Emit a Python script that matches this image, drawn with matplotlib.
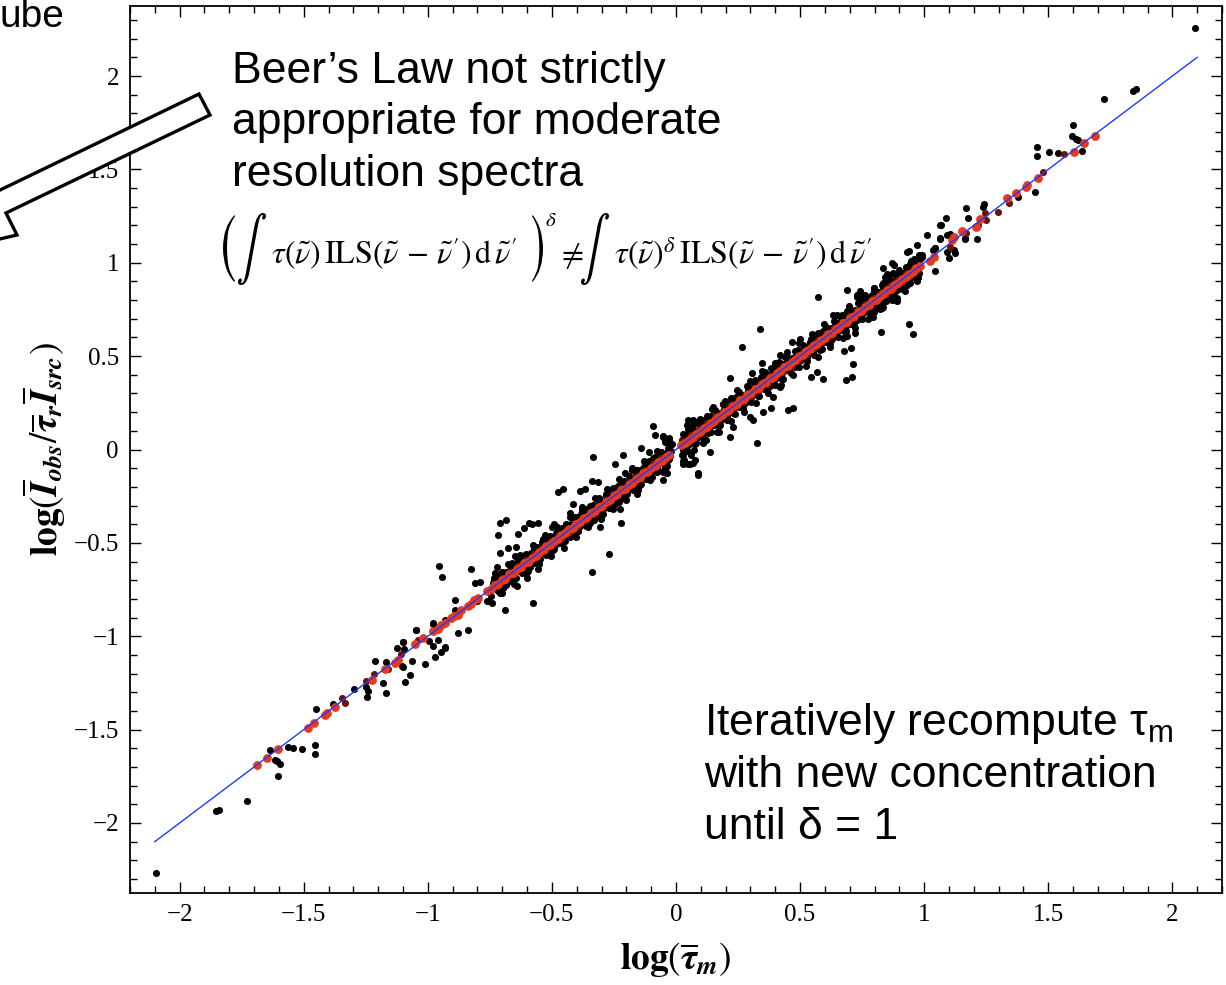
import matplotlib.pyplot as plt
from matplotlib.patches import Polygon, PathPatch
from matplotlib.textpath import TextPath
from matplotlib.font_manager import FontProperties
from matplotlib.transforms import Affine2D
from matplotlib.ticker import MultipleLocator, FuncFormatter

# =========================
# data
# =========================
fit_x = [-2.1, 2.1]
fit_y = [-2.1, 2.1]

# dense black band along the 1:1 line
core_x = [-0.734, -0.709, -0.684, -0.659, -0.634, -0.609, -0.584, -0.559, -0.534, -0.509,
          -0.484, -0.459, -0.434, -0.409, -0.384, -0.359, -0.334, -0.309, -0.284, -0.259,
          -0.234, -0.209, -0.184, -0.159, -0.134, -0.109, -0.084, -0.059, -0.034,
          -0.746, -0.721, -0.696, -0.671, -0.646, -0.621, -0.596, -0.571, -0.546, -0.521,
          -0.496, -0.471, -0.446, -0.421, -0.396, -0.371, -0.346, -0.321, -0.296, -0.271,
          -0.246, -0.221, -0.196, -0.171, -0.146, -0.121, -0.096, -0.071, -0.046,
          -0.728, -0.703, -0.678, -0.653, -0.628, -0.603, -0.578, -0.553, -0.528, -0.503,
          -0.478, -0.453, -0.428, -0.403, -0.378, -0.353, -0.328, -0.303, -0.278, -0.253,
          -0.228, -0.203, -0.178, -0.153, -0.128, -0.103, -0.078, -0.053, -0.028,
          0.041, 0.066, 0.091, 0.116, 0.141, 0.166, 0.191, 0.216, 0.241, 0.266,
          0.291, 0.316, 0.341, 0.366, 0.391, 0.416, 0.441, 0.466, 0.491, 0.516,
          0.541, 0.566, 0.591, 0.616, 0.641, 0.666, 0.691, 0.716, 0.741, 0.766,
          0.791, 0.816, 0.841, 0.866, 0.891, 0.916, 0.941, 0.966, 0.991,
          0.029, 0.054, 0.079, 0.104, 0.129, 0.154, 0.179, 0.204, 0.229, 0.254,
          0.279, 0.304, 0.329, 0.354, 0.379, 0.404, 0.429, 0.454, 0.479, 0.504,
          0.529, 0.554, 0.579, 0.604, 0.629, 0.654, 0.679, 0.704, 0.729, 0.754,
          0.779, 0.804, 0.829, 0.854, 0.879, 0.904, 0.929, 0.954, 0.979,
          0.047, 0.072, 0.097, 0.122, 0.147, 0.172, 0.197, 0.222, 0.247, 0.272,
          0.297, 0.322, 0.347, 0.372, 0.397, 0.422, 0.447, 0.472, 0.497, 0.522,
          0.547, 0.572, 0.597, 0.622, 0.647, 0.672, 0.697, 0.722, 0.747, 0.772,
          0.797, 0.822, 0.847, 0.872, 0.897, 0.922, 0.947, 0.972,
          -0.030, -0.024, -0.020, -0.032, -0.036, -0.041, -0.046, -0.052, -0.018, -0.026,
          0.026, 0.030, 0.034, 0.040, 0.045, 0.028, 0.052]
core_y = [-0.704, -0.667, -0.658, -0.609, -0.600, -0.563, -0.556, -0.521, -0.479, -0.478,
          -0.446, -0.419, -0.402, -0.361, -0.348, -0.321, -0.298, -0.259, -0.250, -0.216,
          -0.196, -0.170, -0.150, -0.109, -0.098, -0.062, -0.040, -0.015, 0.010,
          -0.782, -0.749, -0.744, -0.703, -0.690, -0.648, -0.648, -0.606, -0.586, -0.551,
          -0.540, -0.499, -0.492, -0.456, -0.436, -0.401, -0.392, -0.354, -0.344, -0.298,
          -0.291, -0.258, -0.240, -0.203, -0.192, -0.156, -0.148, -0.110, -0.098,
          -0.662, -0.770, -0.615, -0.720, -0.566, -0.668, -0.512, -0.615, -0.462, -0.570,
          -0.415, -0.525, -0.360, -0.470, -0.310, -0.415, -0.262, -0.370, -0.212, -0.318,
          -0.160, -0.268, -0.112, -0.218, -0.062, -0.165, -0.010, -0.120, 0.035,
          0.075, 0.092, 0.137, 0.138, 0.180, 0.196, 0.243, 0.240, 0.283, 0.294,
          0.325, 0.342, 0.387, 0.388, 0.430, 0.446, 0.493, 0.490, 0.533, 0.544,
          0.575, 0.592, 0.637, 0.638, 0.680, 0.696, 0.743, 0.740, 0.783, 0.794,
          0.825, 0.842, 0.887, 0.888, 0.930, 0.946, 0.993, 0.990, 1.033,
          -0.003, 0.030, 0.035, 0.076, 0.091, 0.132, 0.130, 0.174, 0.193, 0.229,
          0.247, 0.280, 0.285, 0.326, 0.341, 0.382, 0.380, 0.424, 0.443, 0.479,
          0.497, 0.530, 0.535, 0.576, 0.591, 0.632, 0.630, 0.674, 0.693, 0.729,
          0.747, 0.780, 0.785, 0.826, 0.841, 0.882, 0.880, 0.924, 0.943,
          0.110, -0.005, 0.165, 0.050, 0.215, 0.095, 0.262, 0.150, 0.318, 0.200,
          0.365, 0.248, 0.420, 0.300, 0.465, 0.345, 0.520, 0.398, 0.570, 0.445,
          0.620, 0.495, 0.670, 0.548, 0.718, 0.598, 0.770, 0.650, 0.815, 0.700,
          0.865, 0.750, 0.915, 0.800, 0.960, 0.850, 1.010, 0.905,
          0.050, 0.022, -0.008, -0.058, -0.088, -0.125, 0.040, 0.066, 0.030, -0.035,
          -0.030, 0.012, -0.055, 0.045, -0.010, -0.060, 0.030]

# black points hugging the red centre line
inner_x = [-0.736, -0.724, -0.712, -0.700, -0.688, -0.676, -0.664, -0.652, -0.640, -0.628,
           -0.616, -0.604, -0.592, -0.580, -0.568, -0.556, -0.544, -0.532, -0.520, -0.508,
           -0.496, -0.484, -0.472, -0.460, -0.448, -0.436, -0.424, -0.412, -0.400, -0.388,
           -0.376, -0.364, -0.352, -0.340, -0.328, -0.316, -0.304, -0.292, -0.280, -0.268,
           -0.256, -0.244, -0.232, -0.220, -0.208, -0.196, -0.184, -0.172, -0.160, -0.148,
           -0.136, -0.124, -0.112, -0.100, -0.088, -0.076, -0.064, -0.052, -0.040, -0.028,
           0.026, 0.038, 0.050, 0.062, 0.074, 0.086, 0.098, 0.110, 0.122, 0.134,
           0.146, 0.158, 0.170, 0.182, 0.194, 0.206, 0.218, 0.230, 0.242, 0.254,
           0.266, 0.278, 0.290, 0.302, 0.314, 0.326, 0.338, 0.350, 0.362, 0.374,
           0.386, 0.398, 0.410, 0.422, 0.434, 0.446, 0.458, 0.470, 0.482, 0.494,
           0.506, 0.518, 0.530, 0.542, 0.554, 0.566, 0.578, 0.590, 0.602, 0.614,
           0.626, 0.638, 0.650, 0.662, 0.674, 0.686, 0.698, 0.710, 0.722, 0.734,
           0.746, 0.758, 0.770, 0.782, 0.794, 0.806, 0.818, 0.830, 0.842, 0.854,
           0.866, 0.878, 0.890, 0.902, 0.914, 0.926, 0.938, 0.950, 0.962, 0.974]
inner_y = [-0.714, -0.745, -0.688, -0.722, -0.664, -0.699, -0.641, -0.674, -0.617, -0.650,
           -0.592, -0.627, -0.569, -0.602, -0.544, -0.579, -0.521, -0.554, -0.496, -0.531,
           -0.473, -0.506, -0.448, -0.483, -0.425, -0.458, -0.400, -0.435, -0.377, -0.410,
           -0.352, -0.387, -0.329, -0.362, -0.304, -0.339, -0.281, -0.314, -0.256, -0.291,
           -0.233, -0.266, -0.208, -0.243, -0.185, -0.218, -0.160, -0.195, -0.137, -0.170,
           -0.112, -0.147, -0.089, -0.122, -0.064, -0.099, -0.041, -0.074, -0.017, -0.050,
           0.049, 0.016, 0.073, 0.040, 0.097, 0.064, 0.121, 0.088, 0.145, 0.112,
           0.169, 0.136, 0.193, 0.160, 0.217, 0.184, 0.241, 0.208, 0.265, 0.232,
           0.289, 0.256, 0.313, 0.280, 0.337, 0.304, 0.361, 0.328, 0.385, 0.352,
           0.409, 0.376, 0.433, 0.400, 0.457, 0.424, 0.481, 0.448, 0.505, 0.472,
           0.529, 0.496, 0.553, 0.520, 0.577, 0.544, 0.601, 0.568, 0.625, 0.592,
           0.649, 0.616, 0.673, 0.640, 0.697, 0.664, 0.721, 0.688, 0.745, 0.712,
           0.769, 0.736, 0.793, 0.760, 0.817, 0.784, 0.841, 0.808, 0.865, 0.832,
           0.889, 0.856, 0.913, 0.880, 0.937, 0.904, 0.961, 0.928, 0.985, 0.952]

# x positions of two more rows in the band (dark-red fringe and outer black edge)
band_x = [-0.732, -0.716, -0.700, -0.684, -0.668, -0.652, -0.636, -0.620, -0.604, -0.588,
          -0.572, -0.556, -0.540, -0.524, -0.508, -0.492, -0.476, -0.460, -0.444, -0.428,
          -0.412, -0.396, -0.380, -0.364, -0.348, -0.332, -0.316, -0.300, -0.284, -0.268,
          -0.252, -0.236, -0.220, -0.204, -0.188, -0.172, -0.156, -0.140, -0.124, -0.108,
          -0.092, -0.076, -0.060, -0.044,
          0.030, 0.046, 0.062, 0.078, 0.094, 0.110, 0.126, 0.142, 0.158, 0.174,
          0.190, 0.206, 0.222, 0.238, 0.254, 0.270, 0.286, 0.302, 0.318, 0.334,
          0.350, 0.366, 0.382, 0.398, 0.414, 0.430, 0.446, 0.462, 0.478, 0.494,
          0.510, 0.526, 0.542, 0.558, 0.574, 0.590, 0.606, 0.622, 0.638, 0.654,
          0.670, 0.686, 0.702, 0.718, 0.734, 0.750, 0.766, 0.782, 0.798, 0.814,
          0.830, 0.846, 0.862, 0.878, 0.894, 0.910, 0.926, 0.942, 0.958, 0.974]
fringe_y = [-0.718, -0.729, -0.686, -0.697, -0.654, -0.665, -0.622, -0.633, -0.590, -0.601,
            -0.558, -0.569, -0.526, -0.537, -0.494, -0.505, -0.462, -0.473, -0.430, -0.441,
            -0.398, -0.409, -0.366, -0.377, -0.334, -0.345, -0.302, -0.313, -0.270, -0.281,
            -0.238, -0.249, -0.206, -0.217, -0.174, -0.185, -0.142, -0.153, -0.110, -0.121,
            -0.078, -0.089, -0.046, -0.057,
            0.044, 0.033, 0.076, 0.065, 0.108, 0.097, 0.140, 0.129, 0.172, 0.161,
            0.204, 0.193, 0.236, 0.225, 0.268, 0.257, 0.300, 0.289, 0.332, 0.321,
            0.364, 0.353, 0.396, 0.385, 0.428, 0.417, 0.460, 0.449, 0.492, 0.481,
            0.524, 0.513, 0.556, 0.545, 0.588, 0.577, 0.620, 0.609, 0.652, 0.641,
            0.684, 0.673, 0.716, 0.705, 0.748, 0.737, 0.780, 0.769, 0.812, 0.801,
            0.844, 0.833, 0.876, 0.865, 0.908, 0.897, 0.940, 0.929, 0.972, 0.961]
edge_y = [-0.687, -0.759, -0.655, -0.727, -0.623, -0.695, -0.591, -0.663, -0.559, -0.631,
          -0.527, -0.599, -0.495, -0.567, -0.463, -0.535, -0.431, -0.503, -0.399, -0.471,
          -0.367, -0.439, -0.335, -0.407, -0.303, -0.375, -0.271, -0.343, -0.239, -0.311,
          -0.207, -0.279, -0.175, -0.247, -0.143, -0.215, -0.111, -0.183, -0.079, -0.151,
          -0.047, -0.119, -0.015, -0.087,
          0.082, -0.004, 0.114, 0.028, 0.146, 0.060, 0.178, 0.092, 0.210, 0.124,
          0.242, 0.156, 0.274, 0.188, 0.306, 0.220, 0.338, 0.252, 0.370, 0.284,
          0.402, 0.316, 0.434, 0.348, 0.466, 0.380, 0.498, 0.412, 0.530, 0.444,
          0.562, 0.476, 0.594, 0.508, 0.626, 0.540, 0.658, 0.572, 0.690, 0.604,
          0.722, 0.636, 0.754, 0.668, 0.786, 0.700, 0.818, 0.732, 0.850, 0.764,
          0.882, 0.796, 0.914, 0.828, 0.946, 0.860, 0.978, 0.892, 1.010, 0.924]

# scattered black points away from the band
spread_x = [0.574, 0.688, 0.339, 0.267, 0.825, 0.685, 0.708, 0.715, 0.722, 0.675,
            0.567, 0.592, 0.543, 0.453, 0.473, 0.325, 0.218, 0.348, 0.305, 0.419,
            0.392, 0.382, 0.352, 0.312, 0.164, 0.137, 0.090, 0.050, -0.092, -0.051,
            -0.028, -0.142, -0.212, -0.246, -0.206, 0.027, 0.056, 0.077, 0.110, 0.218,
            0.231, 0.298, 0.540, 0.634, 0.782, 0.796, 0.883, 0.836, 0.728, 0.755,
            0.466, 0.500, 0.490, 0.419, 0.359, 0.151, 0.104, 0.070,
            -0.333, -0.108, -0.085, -0.176, -0.313, -0.340, -0.454, -0.474, -0.387, -0.367,
            -0.414, -0.380, -0.427, -0.269, -0.340, -0.578, -0.690, -0.710, -0.685, -0.716,
            -0.636, -0.676, -0.710, -0.613, -0.593, -0.580, -0.555, -0.528, -0.501, -0.490,
            -0.954, -0.941, -0.828, -0.891, -0.890, -0.810, -0.790, -0.723, -0.743, -0.760,
            -0.837, -0.878, -0.979, -1.046, -0.932, -1.100, -0.960, -0.555, -0.556, -0.602,
            -0.640, -0.710, -0.800, -0.649, -0.645, -0.400, -0.306, -0.222, -0.159, -0.226,
            -0.230, -0.170, -0.051, -0.038, 0.050, 0.070, 0.087, 0.060, 0.030, 0.043, 0.070,
            0.937, 0.953, 0.704, 1.065, 1.125, 1.065, 0.937, 0.980, 0.950, 0.870,
            0.876, 0.850, 0.836, 0.890, 0.890, 0.796, 0.740, 0.730, 0.760, 0.796,
            0.830, 0.793, 0.977, 1.044, 1.092, 1.165, 1.105, 1.212, 0.690, 0.700]
spread_y = [0.815, 0.854, 0.645, 0.547, 0.630, 0.372, 0.386, 0.456, 0.622, 0.527,
            0.416, 0.377, 0.386, 0.211, 0.223, 0.033, 0.381, 0.464, 0.408, 0.333,
            0.282, 0.220, 0.202, 0.157, 0.095, -0.012, -0.128, 0.157, 0.127, 0.073,
            0.063, 0.006, -0.030, -0.075, -0.128, -0.075, -0.080, -0.057, 0.033, 0.068,
            0.122, 0.175, 0.559, 0.720, 0.711, 0.738, 0.800, 0.764, 0.818, 0.793,
            0.577, 0.590, 0.520, 0.506, 0.416, 0.229, 0.157, 0.130,
            -0.039, -0.016, 0.077, -0.098, -0.173, -0.169, -0.214, -0.228, -0.223, -0.210,
            -0.292, -0.316, -0.342, -0.557, -0.655, -0.821, -0.860, -0.393, -0.378, -0.458,
            -0.453, -0.530, -0.553, -0.423, -0.396, -0.400, -0.395, -0.458, -0.414, -0.400,
            -0.625, -0.682, -0.641, -0.807, -0.857, -0.717, -0.710, -0.628, -0.824, -0.810,
            -0.964, -0.985, -0.928, -0.967, -1.060, -1.030, -1.020, -0.614, -0.640, -0.690,
            -0.730, -0.768, -0.810, -0.571, -0.520, -0.360, -0.417, -0.393, -0.239, -0.316,
            -0.280, -0.180, -0.164, -0.128, -0.075, -0.070, -0.137, -0.030, -0.030, 0.131, 0.160,
            0.672, 0.616, 0.545, 1.131, 1.054, 1.202, 1.064, 1.041, 1.005, 0.997,
            0.943, 0.940, 0.890, 0.854, 0.797, 0.863, 0.850, 0.830, 0.825, 0.773,
            0.760, 0.708, 0.925, 1.077, 1.056, 1.131, 1.154, 1.193, 0.610, 0.690]

# sparse black points at the low end
low_x = [-2.097, -1.852, -1.841, -1.729, -1.637, -1.617, -1.608, -1.597, -1.602, -1.563,
         -1.542, -1.505, -1.456, -1.454, -1.449, -1.384, -1.297, -1.250, -1.243, -1.246,
         -1.212, -1.180, -1.168, -1.169, -1.126, -1.099, -1.096, -1.106, -1.098, -1.090,
         -1.072, -1.064, -1.048, -1.012, -0.995, -0.979, -0.981, -0.972, -0.945, -0.930,
         -0.931]
low_y = [-2.267, -1.935, -1.928, -1.883, -1.610, -1.664, -1.670, -1.685, -1.748, -1.592,
         -1.596, -1.603, -1.580, -1.628, -1.390, -1.364, -1.280, -1.274, -1.292, -1.325,
         -1.135, -1.249, -1.303, -1.137, -1.062, -1.033, -1.067, -1.157, -1.164, -1.246,
         -1.210, -1.130, -0.964, -1.151, -1.025, -0.935, -1.051, -1.110, -1.084, -1.062,
         -0.914]

# sparse black points at the high end
high_x = [2.093, 1.840, 1.855, 1.726, 1.599, 1.595, 1.610, 1.620, 1.634, 1.539,
          1.503, 1.453, 1.453, 1.448, 1.380, 1.243, 1.237, 1.177, 1.167, 1.211,
          1.165, 1.087, 1.069, 1.090, 1.062, 1.098, 1.120, 1.044, 1.035, 1.011,
          1.044, 0.970, 0.930, 0.990, 0.984, 0.957, 0.977, 0.879, 0.836, 0.863,
          0.843, 0.890, 0.930, 0.836, 0.890]
high_y = [2.259, 1.921, 1.929, 1.875, 1.739, 1.679, 1.665, 1.660, 1.600, 1.586,
          1.595, 1.620, 1.572, 1.380, 1.354, 1.314, 1.296, 1.241, 1.295, 1.125,
          1.127, 1.238, 1.200, 1.150, 1.125, 1.024, 1.070, 1.077, 1.068, 1.147,
          0.957, 1.095, 1.056, 1.041, 1.018, 1.018, 0.925, 0.988, 0.970, 0.934,
          0.925, 0.925, 0.904, 0.872, 0.809]

# dark red points
dark_x = [-1.344, -1.333, -1.251, -1.217, -1.160, -1.109, -1.039,
          1.105, 1.169, 1.215, 1.250, 1.247, 1.296, 1.340, 1.477, 1.562]
dark_y = [-1.330, -1.355, -1.239, -1.203, -1.178, -1.096, -1.021,
          1.082, 1.157, 1.202, 1.228, 1.265, 1.270, 1.321, 1.488, 1.582]

# red points (on the line)
red_x = [-0.731, -0.716, -0.702, -0.688, -0.671, -0.657, -0.642, -0.626, -0.611, -0.597,
         -0.582, -0.566, -0.551, -0.537, -0.522, -0.506, -0.491, -0.477, -0.462, -0.446,
         -0.431, -0.417, -0.402, -0.386, -0.371, -0.357, -0.342, -0.326, -0.311, -0.297,
         -0.282, -0.266, -0.251, -0.237, -0.222, -0.206, -0.191, -0.177, -0.162, -0.146,
         -0.131, -0.117, -0.102, -0.086, -0.071, -0.057, -0.042, -0.027,
         0.022, 0.037, 0.051, 0.066, 0.081, 0.096, 0.111, 0.125, 0.140, 0.155,
         0.170, 0.185, 0.199, 0.214, 0.229, 0.244, 0.259, 0.273, 0.288, 0.303,
         0.318, 0.333, 0.347, 0.362, 0.377, 0.392, 0.407, 0.421, 0.436, 0.451,
         0.466, 0.481, 0.495, 0.510, 0.525, 0.540, 0.555, 0.569, 0.584, 0.599,
         0.614, 0.629, 0.643, 0.658, 0.673, 0.688, 0.703, 0.717, 0.732, 0.747,
         0.762, 0.777, 0.791, 0.806, 0.821, 0.836, 0.851, 0.865, 0.880, 0.895,
         0.910, 0.925, 0.939, 0.954, 0.969, 0.984,
         -1.690, -1.649, -1.604, -1.482, -1.458, -1.415, -1.408, -1.374, -1.225, -1.173,
         -1.133, -1.120, -1.050, -1.019, -0.979, -0.960, -0.945, -0.930,
         -0.905, -0.893, -0.880, -0.866, -0.840, -0.826, -0.812, -0.798, -0.760, -0.745,
         1.022, 1.040, 1.112, 1.121, 1.152, 1.210, 1.223, 1.333, 1.371, 1.410,
         1.415, 1.457, 1.602, 1.645, 1.687]
red_y = [-0.728, -0.719, -0.698, -0.691, -0.667, -0.661, -0.639, -0.629, -0.607, -0.600,
         -0.579, -0.569, -0.548, -0.540, -0.519, -0.509, -0.488, -0.480, -0.459, -0.449,
         -0.428, -0.420, -0.399, -0.389, -0.368, -0.360, -0.339, -0.329, -0.308, -0.300,
         -0.279, -0.269, -0.248, -0.240, -0.219, -0.209, -0.188, -0.180, -0.159, -0.149,
         -0.128, -0.120, -0.099, -0.089, -0.068, -0.060, -0.039, -0.030,
         0.025, 0.033, 0.053, 0.064, 0.085, 0.093, 0.113, 0.123, 0.144, 0.152,
         0.172, 0.183, 0.203, 0.211, 0.231, 0.242, 0.263, 0.270, 0.290, 0.301,
         0.322, 0.330, 0.349, 0.360, 0.381, 0.389, 0.409, 0.419, 0.440, 0.448,
         0.468, 0.479, 0.499, 0.507, 0.527, 0.538, 0.559, 0.566, 0.586, 0.597,
         0.618, 0.626, 0.645, 0.656, 0.677, 0.685, 0.705, 0.715, 0.736, 0.744,
         0.764, 0.775, 0.795, 0.803, 0.823, 0.834, 0.855, 0.862, 0.882, 0.893,
         0.914, 0.922, 0.941, 0.952, 0.973, 0.981,
         -1.687, -1.653, -1.603, -1.490, -1.464, -1.420, -1.412, -1.378, -1.236, -1.173,
         -1.142, -1.128, -1.039, -1.007, -0.973, -0.962, -0.941, -0.930,
         -0.900, -0.891, -0.884, -0.862, -0.838, -0.830, -0.808, -0.797, -0.757, -0.748,
         1.011, 1.032, 1.122, 1.139, 1.170, 1.193, 1.234, 1.345, 1.372, 1.407,
         1.414, 1.452, 1.595, 1.643, 1.679]

x_ticks = [-2, -1.5, -1, -0.5, 0, 0.5, 1, 1.5, 2]

# =========================
# figure setup
# =========================
W, H = 1226, 985
plt.rcParams["mathtext.fontset"] = "stix"
plt.rcParams["font.family"] = ["Liberation Serif", "DejaVu Serif"]

fig = plt.figure(figsize=(W / 100, H / 100), dpi=100)
ax = fig.add_axes([130 / W, 92 / H, 1092 / W, 887 / H])


def fx(px):
    return px / W


def fy(py):
    return 1 - py / H


def tall_glyph(ch, left, right, top, bottom):
    # a stretched STIX glyph filling a box given in pixels from the top-left
    path = TextPath((0, 0), ch, size=100, prop=FontProperties(family="STIXGeneral"))
    bb = path.get_extents()
    tr = (Affine2D().translate(-bb.x0, -bb.y0)
          .scale((right - left) / bb.width, (bottom - top) / bb.height)
          .translate(left, H - bottom))
    fig.add_artist(PathPatch(path, transform=tr, facecolor="black", edgecolor="none", zorder=11))


# =========================
# scatter + fit line
# =========================
dot = 26
for xs, ys in [(core_x, core_y), (inner_x, inner_y), (band_x, edge_y),
               (spread_x, spread_y), (low_x, low_y), (high_x, high_y)]:
    ax.scatter(xs, ys, s=dot, color="black", linewidths=0, zorder=2)
ax.scatter(band_x, fringe_y, s=dot, color="#7a160b", linewidths=0, zorder=3)
ax.scatter(dark_x, dark_y, s=dot, color="#6e1208", linewidths=0, zorder=3)
ax.scatter(red_x, red_y, s=40, color="#e8391d", linewidths=0, zorder=4)
ax.plot(fit_x, fit_y, color="#1a3cff", linewidth=1.0, zorder=5)

# =========================
# axes decoration
# =========================
ax.set_xlim(-2.2, 2.2)
ax.set_ylim(-2.375, 2.375)
for axis in (ax.xaxis, ax.yaxis):
    axis.set_major_locator(MultipleLocator(0.5))
    axis.set_minor_locator(MultipleLocator(0.1))
    axis.set_major_formatter(FuncFormatter(lambda v, p: ("%g" % v).replace("-", "\u2212")))
ax.set_xticks(x_ticks)
ax.tick_params(which="both", direction="in", top=True, right=True, labelsize=18, width=1)
ax.tick_params(which="major", length=8, pad=8)
ax.tick_params(which="minor", length=5)
for sp in ax.spines.values():
    sp.set_linewidth(1.3)

ax.set_xlabel(r"$\mathbf{log}(\overline{\mathbfit{\tau}}_{\mathbfit{m}})$", fontsize=27, labelpad=10)
ax.set_ylabel(r"$\mathbf{log}(\overline{\mathbfit{I}}_{\mathbfit{obs}}/\overline{\mathbfit{\tau}}_{\mathbfit{r}}"
              r"\overline{\mathbfit{I}}_{\mathbfit{src}})$", fontsize=27, labelpad=4)

# =========================
# annotations
# =========================
sans = ["Liberation Sans", "DejaVu Sans"]
fig.text(fx(-1), fy(27), "ube", family=sans, fontsize=28, va="baseline")

arrow_px = [(199, 94), (210, 115), (6, 213), (17, 235), (-100, 262), (-15, 170), (-4, 192)]
arrow = Polygon([(fx(a), fy(b)) for a, b in arrow_px], closed=True, transform=fig.transFigure,
                facecolor="white", edgecolor="black", linewidth=2.4, zorder=10)
fig.patches.append(arrow)

fig.text(fx(232), fy(83), "Beer\u2019s Law not strictly", family=sans, fontsize=32, va="baseline", zorder=11)
fig.text(fx(232), fy(134), "appropriate for moderate", family=sans, fontsize=32, va="baseline", zorder=11)
fig.text(fx(232), fy(186), "resolution spectra", family=sans, fontsize=32, va="baseline", zorder=11)

# formula: tall brackets / integrals drawn as stretched glyphs, the rest as mathtext
body = 23
tall_glyph("(", 223, 235, 215, 282)
tall_glyph("\u222b", 238, 266, 213, 285)
fig.text(fx(271), fy(264),
         r"$\tau(\tilde{\nu})\,\mathrm{ILS}(\tilde{\nu}\,-\,\tilde{\nu}^{\prime})\,\mathrm{d}\,\tilde{\nu}^{\prime}$",
         fontsize=body, va="baseline", ha="left", zorder=11)
tall_glyph(")", 532, 543, 215, 282)
fig.text(fx(545), fy(226), r"$\delta$", fontsize=15, va="baseline", ha="left", zorder=11)
fig.text(fx(557), fy(264), r"$\neq$", fontsize=body, va="baseline", ha="left", zorder=11)
tall_glyph("\u222b", 581, 609, 213, 285)
fig.text(fx(614), fy(264),
         r"$\tau(\tilde{\nu})^{\delta}\,\mathrm{ILS}(\tilde{\nu}\,-\,\tilde{\nu}^{\prime})\,\mathrm{d}\,\tilde{\nu}^{\prime}$",
         fontsize=body, va="baseline", ha="left", zorder=11)

fig.text(fx(704), fy(735), r"Iteratively recompute τ$\mathregular{_m}$", family=sans, fontsize=32,
         va="baseline", zorder=11)
fig.text(fx(704), fy(787), "with new concentration", family=sans, fontsize=32, va="baseline", zorder=11)
fig.text(fx(704), fy(839), "until δ = 1", family=sans, fontsize=32, va="baseline", zorder=11)

fig.savefig("out.png", dpi=100)
